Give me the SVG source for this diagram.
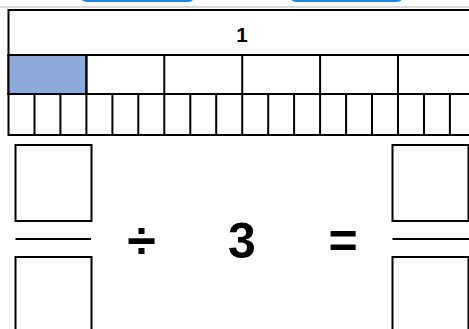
<svg xmlns="http://www.w3.org/2000/svg" width="469" height="329" viewBox="0 0 469 329">
<style>
.ln{stroke:#000;stroke-width:2;fill:none}
.cell{stroke:#000;stroke-width:2;fill:#fff}
.box{stroke:#000;stroke-width:2;fill:#fff}
.btn{stroke:#1e88e5;stroke-width:2;fill:#fff}
.t{font-family:"Liberation Sans",Arial,sans-serif;font-weight:bold;fill:#000;text-anchor:middle}
</style>
<rect width="469" height="329" fill="#fff"/>
<g id="buttons">
<rect class="btn" x="80" y="-24" width="115" height="25" rx="7"/>
<rect class="btn" x="289.5" y="-24" width="114" height="25" rx="7"/>
</g>
<line x1="0" y1="7" x2="469" y2="7" stroke="#cfcfcf" stroke-width="1.5"/>
<g id="bar-whole">
<rect class="cell" x="8.5" y="10" width="467.4" height="45"/>
<text class="t" x="242" y="42" font-size="20.5">1</text>
</g>
<g id="bar-sixths">
<rect class="cell" x="8.5" y="55" width="467.4" height="39"/>
<rect x="8.5" y="55" width="77.9" height="39" fill="#8eaadb" stroke="#000" stroke-width="2"/>
<path class="ln" d="M86.4 55V94M164.3 55V94M242.2 55V94M320.1 55V94M398 55V94"/>
</g>
<g id="bar-eighteenths">
<rect class="cell" x="8.5" y="94" width="467.4" height="41"/>
<path class="ln" d="M34.5 94V135M60.4 94V135M86.4 94V135M112.4 94V135M138.3 94V135M164.3 94V135M190.3 94V135M216.2 94V135M242.2 94V135M268.2 94V135M294.1 94V135M320.1 94V135M346.1 94V135M372 94V135M398 94V135M424 94V135M449.9 94V135"/>
</g>
<g id="left-fraction">
<rect class="box" x="15.5" y="145" width="76" height="76"/>
<line class="ln" x1="15.5" y1="239" x2="91" y2="239"/>
<rect class="box" x="15.5" y="257" width="76" height="90"/>
</g>
<g id="divide-sign"><text class="t" x="141.5" y="258" font-size="52">÷</text></g>
<g id="divisor"><text class="t" x="242" y="258" font-size="50">3</text></g>
<g id="equals-sign"><text class="t" x="343" y="258" font-size="50">=</text></g>
<g id="right-fraction">
<rect class="box" x="392.5" y="145" width="76" height="76"/>
<line class="ln" x1="392.5" y1="239" x2="469" y2="239"/>
<rect class="box" x="392.5" y="257" width="76" height="90"/>
</g>
<g id="connectors"/>
</svg>
